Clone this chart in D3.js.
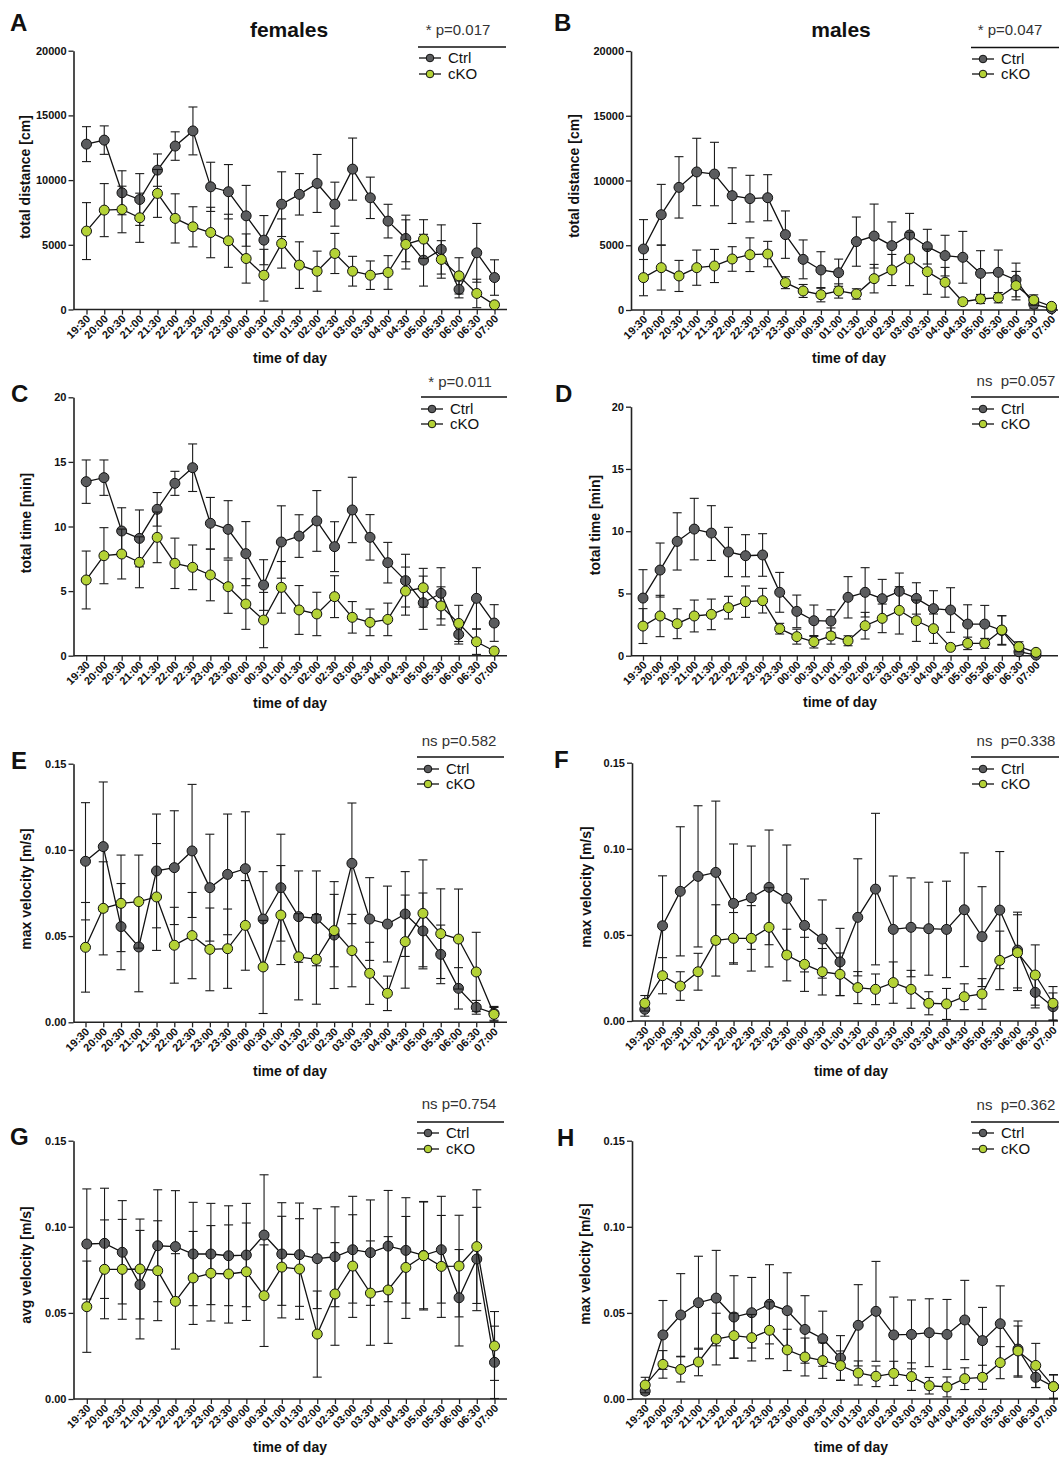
<!DOCTYPE html>
<meta charset="utf-8">
<body style="margin:0;background:#fff">
<script src="https://d3js.org/d3.v7.min.js"></script>
<script>
// time points on the x axis
var times = ["19:30","20:00","20:30","21:00","21:30","22:00","22:30","23:00","23:30","00:00","00:30","01:00",
             "01:30","02:00","02:30","03:00","03:30","04:00","04:30","05:00","05:30","06:00","06:30","07:00"];

// A - females, total distance [cm]
var femDistCtrl    = [12780,13090,9020,8500,10770,12630,13800,9480,9100,7240,5360,8140,8900,9740,8140,10850,8630,6830,5490,3810,4640,1550,4380,2470];
var femDistCtrlErr = [1350,1100,1700,2000,1250,1100,1850,1900,2100,2350,1900,2500,1600,2240,1700,2400,1600,1300,1800,2000,1900,650,2270,1370];
var femDistKo      = [6060,7680,7730,7090,8970,7040,6390,5950,5310,3940,2650,5100,3430,2960,4330,2960,2650,2860,5030,5440,3870,2600,1240,360];
var femDistKoErr   = [2200,2050,1800,1900,1850,1900,1550,1950,2050,1900,2000,1900,1800,1550,1550,1150,1100,1300,1900,1500,1450,1400,1100,200];

// B - males, total distance [cm]
var malDistCtrl    = [4710,7360,9470,10660,10500,8830,8600,8670,5820,3910,3090,2880,5280,5710,4970,5790,4890,4200,4070,2830,2910,2320,440,100];
var malDistCtrlErr = [2270,2340,2370,2600,2450,2150,1800,1780,1830,1500,1410,1050,1900,2470,1830,1670,1340,1570,2000,1750,1720,1300,300,100];
var malDistKo      = [2500,3270,2630,3270,3400,3940,4270,4320,2110,1470,1180,1470,1240,2420,3090,3940,2960,2140,640,850,950,1880,770,280];
var malDistKoErr   = [1400,1730,1200,1360,1280,950,1300,980,460,500,550,550,400,1100,1200,2060,1750,1150,200,350,400,1100,400,100];

// C - females, total time [min]
var femTimeCtrl    = [13.47,13.78,9.65,9.08,11.33,13.34,14.55,10.25,9.78,7.90,5.47,8.80,9.26,10.43,8.44,11.28,9.16,7.20,5.81,4.10,4.83,1.65,4.44,2.53];
var femTimeCtrlErr = [1.68,1.37,1.80,2.20,1.30,0.93,1.84,2.00,2.22,2.48,1.96,2.80,1.65,2.35,1.93,2.53,1.76,1.57,2.04,2.06,1.98,0.75,2.37,1.42];
var femTimeKo      = [5.86,7.74,7.87,7.23,9.16,7.15,6.84,6.25,5.34,4.00,2.76,5.29,3.54,3.23,4.57,2.97,2.58,2.81,5.00,5.26,3.85,2.50,1.08,0.36];
var femTimeKoErr   = [2.24,2.17,1.93,1.97,1.96,1.95,1.73,2.00,2.06,1.96,2.14,2.00,1.89,1.68,1.62,1.22,1.03,1.26,1.86,1.50,1.48,1.40,0.98,0.20];

// D - males, total time [min]
var malTimeCtrl    = [4.63,6.88,9.18,10.17,9.85,8.33,8.03,8.09,5.09,3.56,2.81,2.78,4.69,5.09,4.58,5.17,4.60,3.78,3.67,2.54,2.54,2.03,0.32,0.05];
var malTimeCtrlErr = [2.28,2.17,2.30,2.47,2.20,1.98,1.69,1.71,1.60,1.31,1.26,0.91,1.66,1.98,1.55,1.47,1.26,1.44,1.79,1.55,1.50,1.18,0.20,0.10];
var malTimeKo      = [2.38,3.19,2.57,3.19,3.32,3.86,4.34,4.42,2.17,1.53,1.12,1.58,1.20,2.41,3.00,3.64,2.81,2.17,0.67,0.99,0.99,2.06,0.72,0.27];
var malTimeKoErr   = [1.40,1.66,1.20,1.28,1.23,0.91,1.26,0.99,0.43,0.60,0.50,0.65,0.40,1.07,1.15,1.90,1.66,1.18,0.20,0.50,0.40,1.15,0.40,0.15];

// E - females, max velocity [m/s]
var femMaxCtrl    = [0.0934,0.1019,0.0555,0.0437,0.0878,0.0897,0.0994,0.0781,0.0858,0.0891,0.0599,0.0781,0.0613,0.0603,0.0506,0.0922,0.0599,0.0570,0.0628,0.0530,0.0394,0.0197,0.0087,0.0052];
var femMaxCtrlErr = [0.034,0.0375,0.025,0.026,0.033,0.033,0.0386,0.031,0.035,0.033,0.0275,0.031,0.0265,0.0275,0.031,0.035,0.024,0.022,0.0246,0.022,0.017,0.012,0.004,0.004];
var femMaxKo      = [0.0435,0.0661,0.0690,0.0700,0.0727,0.0447,0.0503,0.0423,0.0427,0.0562,0.0321,0.0622,0.0380,0.0365,0.0532,0.0416,0.0284,0.0168,0.0468,0.0632,0.0514,0.0483,0.0292,0.0046];
var femMaxKoErr   = [0.026,0.027,0.028,0.027,0.031,0.022,0.025,0.024,0.023,0.026,0.027,0.0287,0.025,0.026,0.021,0.021,0.018,0.010,0.027,0.031,0.026,0.029,0.023,0.004];

// F - males, max velocity [m/s]
var malMaxCtrl    = [0.0068,0.0553,0.0753,0.0840,0.0863,0.0683,0.0716,0.0776,0.0712,0.0555,0.0476,0.0343,0.0602,0.0766,0.0532,0.0544,0.0536,0.0532,0.0646,0.0490,0.0644,0.0412,0.0166,0.0083];
var malMaxCtrlErr = [0.004,0.029,0.0375,0.041,0.0414,0.0345,0.030,0.0333,0.031,0.027,0.0227,0.0195,0.034,0.044,0.031,0.0287,0.027,0.028,0.033,0.029,0.034,0.022,0.009,0.008];
var malMaxKo      = [0.0103,0.0263,0.0203,0.0286,0.0468,0.0480,0.0480,0.0544,0.0383,0.0329,0.0286,0.0271,0.0194,0.0184,0.0223,0.0184,0.0103,0.0099,0.0141,0.0157,0.0352,0.0397,0.0267,0.0103];
var malMaxKoErr   = [0.0045,0.0105,0.0083,0.0107,0.0207,0.015,0.019,0.023,0.015,0.0157,0.0135,0.0124,0.0093,0.0089,0.012,0.011,0.0067,0.009,0.0075,0.0089,0.017,0.022,0.0175,0.0097];

// G - females, avg velocity [m/s]
var femAvgCtrl    = [0.0900,0.0904,0.0852,0.0664,0.0890,0.0885,0.0842,0.0842,0.0832,0.0836,0.0952,0.0842,0.0838,0.0815,0.0826,0.0867,0.0850,0.0888,0.0863,0.0834,0.0867,0.0588,0.0813,0.0213];
var femAvgCtrlErr = [0.032,0.032,0.030,0.0315,0.0325,0.0325,0.030,0.0294,0.029,0.030,0.035,0.0298,0.030,0.029,0.029,0.031,0.0306,0.0323,0.0306,0.031,0.031,0.028,0.030,0.021];
var femAvgKo      = [0.0536,0.0753,0.0753,0.0755,0.0745,0.0567,0.0703,0.0730,0.0726,0.0739,0.0600,0.0766,0.0755,0.0377,0.0610,0.0772,0.0615,0.0633,0.0764,0.0832,0.0770,0.0772,0.0885,0.0308];
var femAvgKoErr   = [0.0265,0.0287,0.029,0.029,0.029,0.0277,0.027,0.0277,0.0285,0.0283,0.0295,0.0295,0.0292,0.025,0.0298,0.0298,0.0303,0.031,0.0296,0.0315,0.0296,0.0295,0.033,0.020];

// H - males, velocity [m/s]
var malVelCtrl    = [0.0046,0.0372,0.0488,0.0559,0.0586,0.0476,0.0501,0.0550,0.0513,0.0404,0.0350,0.0238,0.0428,0.0509,0.0372,0.0375,0.0385,0.0375,0.0459,0.0339,0.0437,0.0290,0.0126,0.0072];
var malVelCtrlErr = [0.002,0.020,0.024,0.027,0.0277,0.024,0.0205,0.023,0.022,0.0196,0.016,0.013,0.0236,0.029,0.022,0.020,0.0197,0.0203,0.023,0.0193,0.022,0.0163,0.006,0.007];
var malVelKo      = [0.0081,0.0201,0.0172,0.0215,0.0348,0.0368,0.0356,0.0399,0.0285,0.0244,0.0223,0.0194,0.0151,0.0132,0.0149,0.0130,0.0077,0.0070,0.0118,0.0126,0.0211,0.0279,0.0195,0.0072];
var malVelKoErr   = [0.0045,0.008,0.0073,0.008,0.015,0.013,0.0135,0.0165,0.012,0.011,0.0103,0.0085,0.007,0.006,0.007,0.008,0.0048,0.0058,0.0063,0.007,0.0093,0.0145,0.0128,0.0067];

var groups = ["Ctrl", "cKO"];
var distTicks = [0, 5000, 10000, 15000, 20000];
var timeTicks = [0, 5, 10, 15, 20];
var velTicks  = [0, 0.05, 0.10, 0.15];

var color = d3.scaleOrdinal().domain(groups).range(["#5b5c5e", "#b4d236"]);
var font = "'Liberation Sans', Arial, Helvetica, sans-serif";

// panel layout (pixel boxes per panel)
var panels = [
  {letter:"A", title:"females", ctrl:femDistCtrl, ctrlErr:femDistCtrlErr, ko:femDistKo, koErr:femDistKoErr,
   ticks:distTicks, fmt:d3.format("d"), ylab:"total distance [cm]", p:"* p=0.017",
   ax:73.5, x0:86.5, x1:494.5, xe:507, yt:50.7, yb:309.5, ylx:25, yly:177, xly:363, xlx:290,
   lx:[418,506], ly:47, pc:458, py:35, mx:430, ty:[58,74], lt:[10,31]},
  {letter:"B", title:"males", ctrl:malDistCtrl, ctrlErr:malDistCtrlErr, ko:malDistKo, koErr:malDistKoErr,
   ticks:distTicks, fmt:d3.format("d"), ylab:"total distance [cm]", p:"* p=0.047",
   ax:631, x0:643.5, x1:1051.5, xe:1058, yt:51, yb:310, ylx:574, yly:176, xly:363, xlx:849,
   lx:[971,1059], ly:47.5, pc:1010, py:35, mx:983, ty:[59,74], lt:[554,31]},
  {letter:"C", ctrl:femTimeCtrl, ctrlErr:femTimeCtrlErr, ko:femTimeKo, koErr:femTimeKoErr,
   ticks:timeTicks, fmt:d3.format("d"), ylab:"total time [min]", p:"* p=0.011",
   ax:73.5, x0:86.2, x1:494.2, xe:507, yt:397.3, yb:655.7, ylx:26, yly:523, xly:708, xlx:290,
   lx:[421,507], ly:397, pc:460, py:387, mx:432, ty:[409,424], lt:[11,402]},
  {letter:"D", ctrl:malTimeCtrl, ctrlErr:malTimeCtrlErr, ko:malTimeKo, koErr:malTimeKoErr,
   ticks:timeTicks, fmt:d3.format("d"), ylab:"total time [min]", p:"ns  p=0.057",
   ax:631, x0:643, x1:1036, xe:1058, yt:406.7, yb:655.7, ylx:595, yly:525, xly:707, xlx:840,
   lx:[971,1059], ly:397, pc:1016, py:386, mx:983, ty:[409,424], lt:[555,402]},
  {letter:"E", ctrl:femMaxCtrl, ctrlErr:femMaxCtrlErr, ko:femMaxKo, koErr:femMaxKoErr,
   ticks:velTicks, fmt:d3.format(".2f"), ylab:"max velocity [m/s]", p:"ns p=0.582",
   ax:73.5, x0:85.5, x1:494, xe:507, yt:763.7, yb:1022.3, ylx:26, yly:889, xly:1076, xlx:290,
   lx:[417,504], ly:757, pc:459, py:746, mx:428, ty:[769,784], lt:[11,769]},
  {letter:"F", ctrl:malMaxCtrl, ctrlErr:malMaxCtrlErr, ko:malMaxKo, koErr:malMaxKoErr,
   ticks:velTicks, fmt:d3.format(".2f"), ylab:"max velocity [m/s]", p:"ns  p=0.338",
   ax:632, x0:644.8, x1:1053, xe:1058, yt:762.7, yb:1021, ylx:586, yly:887, xly:1076, xlx:851,
   lx:[971,1059], ly:757, pc:1016, py:746, mx:983, ty:[769,784], lt:[554,768]},
  {letter:"G", ctrl:femAvgCtrl, ctrlErr:femAvgCtrlErr, ko:femAvgKo, koErr:femAvgKoErr,
   ticks:velTicks, fmt:d3.format(".2f"), ylab:"avg velocity [m/s]", p:"ns p=0.754",
   ax:73.5, x0:86.8, x1:494.5, xe:507, yt:1140.7, yb:1399, ylx:26, yly:1265, xly:1452, xlx:290,
   lx:[417,504], ly:1122, pc:459, py:1109, mx:428, ty:[1133,1149], lt:[10,1145]},
  {letter:"H", ctrl:malVelCtrl, ctrlErr:malVelCtrlErr, ko:malVelKo, koErr:malVelKoErr,
   ticks:velTicks, fmt:d3.format(".2f"), ylab:"max velocity [m/s]", p:"ns  p=0.362",
   ax:632, x0:645.2, x1:1053.5, xe:1058, yt:1140.7, yb:1399, ylx:585, yly:1264, xly:1452, xlx:851,
   lx:[971,1059], ly:1122, pc:1016, py:1110, mx:983, ty:[1133,1149], lt:[557,1146]}
];

var svg = d3.select("body").append("svg")
    .attr("width", 1059)
    .attr("height", 1459)
    .style("font-family", font)
    .style("display", "block");

svg.append("rect").attr("width", 1059).attr("height", 1459).attr("fill", "#fff");

panels.forEach(function(pn) {
  var g = svg.append("g");

  var x = d3.scalePoint().domain(times).range([pn.x0, pn.x1]);
  var y = d3.scaleLinear().domain([0, pn.ticks[pn.ticks.length - 1]]).range([pn.yb, pn.yt]);

  // Y axis
  var yAxis = g.append("g")
      .attr("transform", "translate(" + pn.ax + ",0)")
      .call(d3.axisLeft(y).tickValues(pn.ticks).tickFormat(pn.fmt).tickSize(5).tickPadding(2).tickSizeOuter(0));
  yAxis.select(".domain").attr("stroke", "#222").attr("stroke-width", 1.6);
  yAxis.selectAll(".tick line").attr("stroke", "#222").attr("stroke-width", 1.3);
  yAxis.selectAll(".tick text").attr("fill", "#111").style("font-size", "11px").style("font-weight", "bold").style("font-family", font);

  // X axis
  var xAxis = g.append("g")
      .attr("transform", "translate(0," + pn.yb + ")")
      .call(d3.axisBottom(x).tickSize(5).tickSizeOuter(0));
  xAxis.select(".domain").remove();
  xAxis.append("line")
      .attr("x1", pn.ax).attr("x2", pn.xe)
      .attr("stroke", "#222").attr("stroke-width", 1.6);
  xAxis.selectAll(".tick line").attr("stroke", "#222").attr("stroke-width", 1.3);
  xAxis.selectAll(".tick text")
      .attr("fill", "#111")
      .style("font-size", "11px").style("font-weight", "bold").style("font-family", font)
      .attr("text-anchor", "end")
      .attr("dy", null)
      .attr("y", 0)
      .attr("transform", "translate(4,10) rotate(-45)");

  // axis titles
  g.append("text")
      .attr("transform", "translate(" + pn.ylx + "," + pn.yly + ") rotate(-90)")
      .attr("text-anchor", "middle").attr("dy", "0.35em")
      .style("font-size", "14px").style("font-weight", "bold").attr("fill", "#111")
      .text(pn.ylab);
  g.append("text")
      .attr("x", pn.xlx).attr("y", pn.xly)
      .attr("text-anchor", "middle")
      .style("font-size", "14px").style("font-weight", "bold").attr("fill", "#111")
      .text("time of day");

  // panel letter and title
  g.append("text")
      .attr("x", pn.lt[0]).attr("y", pn.lt[1])
      .style("font-size", "24px").style("font-weight", "bold").attr("fill", "#111")
      .text(pn.letter);
  if (pn.title) {
    g.append("text")
        .attr("x", pn.letter === "A" ? 289 : 841).attr("y", 37)
        .attr("text-anchor", "middle")
        .style("font-size", "21px").style("font-weight", "bold").attr("fill", "#111")
        .text(pn.title);
  }

  // series: Ctrl first, cKO drawn on top
  var series = [
    {key:"Ctrl", vals:pn.ctrl, errs:pn.ctrlErr},
    {key:"cKO",  vals:pn.ko,   errs:pn.koErr}
  ];

  series.forEach(function(s) {
    var pts = times.map(function(t, i) { return {t:t, v:s.vals[i], e:s.errs[i]}; });
    var sg = g.append("g");

    var eb = sg.selectAll(".eb").data(pts).enter().append("g")
        .attr("stroke", "#1a1a1a").attr("stroke-width", 1.1).attr("fill", "none");
    eb.append("line")
        .attr("x1", function(d) { return x(d.t); }).attr("x2", function(d) { return x(d.t); })
        .attr("y1", function(d) { return y(Math.max(0, d.v - d.e)); })
        .attr("y2", function(d) { return y(d.v + d.e); });
    eb.append("line")
        .attr("x1", function(d) { return x(d.t) - 4.5; }).attr("x2", function(d) { return x(d.t) + 4.5; })
        .attr("y1", function(d) { return y(d.v + d.e); }).attr("y2", function(d) { return y(d.v + d.e); });
    eb.append("line")
        .attr("x1", function(d) { return x(d.t) - 4.5; }).attr("x2", function(d) { return x(d.t) + 4.5; })
        .attr("y1", function(d) { return y(Math.max(0, d.v - d.e)); }).attr("y2", function(d) { return y(Math.max(0, d.v - d.e)); });

    sg.append("path")
        .datum(pts)
        .attr("fill", "none").attr("stroke", "#111").attr("stroke-width", 1.3)
        .attr("d", d3.line().x(function(d) { return x(d.t); }).y(function(d) { return y(d.v); }));

    sg.selectAll("circle").data(pts).enter().append("circle")
        .attr("cx", function(d) { return x(d.t); })
        .attr("cy", function(d) { return y(d.v); })
        .attr("r", 5)
        .attr("fill", color(s.key))
        .attr("stroke", "#111").attr("stroke-width", 1);
  });

  // legend
  g.append("text")
      .attr("x", pn.pc).attr("y", pn.py)
      .attr("text-anchor", "middle")
      .style("font-size", "15px").style("white-space", "pre").attr("fill", "#333")
      .text(pn.p);
  g.append("line")
      .attr("x1", pn.lx[0]).attr("x2", pn.lx[1])
      .attr("y1", pn.ly).attr("y2", pn.ly)
      .attr("stroke", "#111").attr("stroke-width", 1.6);

  var lg = g.selectAll(".lg").data(groups).enter().append("g")
      .attr("transform", function(d, i) { return "translate(" + pn.mx + "," + pn.ty[i] + ")"; });
  lg.append("line").attr("x1", -11).attr("x2", 11)
      .attr("stroke", "#111").attr("stroke-width", 1.3);
  lg.append("circle").attr("r", 3.8)
      .attr("fill", function(d) { return color(d); })
      .attr("stroke", "#111").attr("stroke-width", 1);
  lg.append("text")
      .attr("x", 18).attr("dy", "0.35em")
      .style("font-size", "15px").attr("fill", "#111")
      .text(function(d) { return d; });
});
</script>
</body>
